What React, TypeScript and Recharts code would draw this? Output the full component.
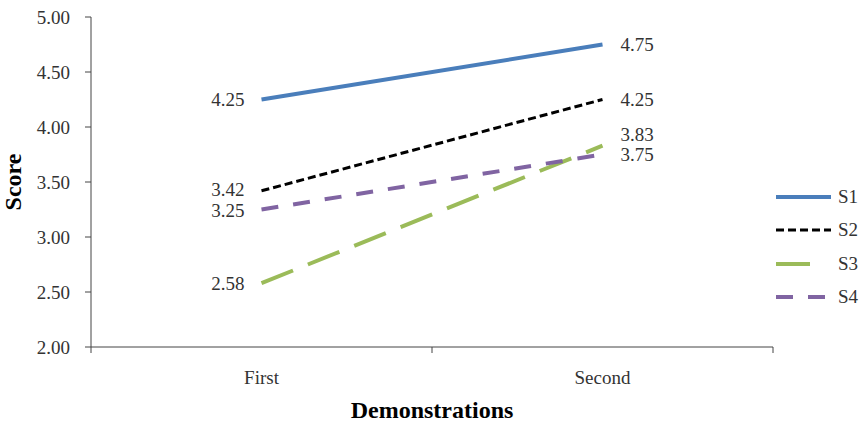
import { LineChart, Line, XAxis, YAxis, Legend, LabelList } from 'recharts'

const categories = ['First', 'Second']
const s1 = [4.25, 4.75]
const s2 = [3.42, 4.25]
const s3 = [2.58, 3.83]
const s4 = [3.25, 3.75]
const yTicks = [2, 2.5, 3, 3.5, 4, 4.5, 5]

const FONT = '"Liberation Serif", "Times New Roman", serif'
const TEXT = '#333'
const AXIS = '#444'

const series = [
  { key: 's1', name: 'S1', color: '#4a7ebb', width: 4, dash: undefined as string | undefined, legendW: 55 },
  { key: 's2', name: 'S2', color: '#000000', width: 3, dash: '8 4', legendW: 55 },
  { key: 's3', name: 'S3', color: '#9bbb59', width: 4, dash: '34 16', legendW: 37 },
  { key: 's4', name: 'S4', color: '#8064a2', width: 4, dash: '17 15', legendW: 55 },
]

// lines sit in the middle of each category slot
const data = categories.map((name, i) => ({
  name,
  pos: i + 0.5,
  s1: s1[i],
  s2: s2[i],
  s3: s3[i],
  s4: s4[i],
}))

// small vertical nudges so close labels do not overlap
const labelNudge: Record<string, number[]> = {
  s1: [0, 0],
  s2: [-1, 0],
  s3: [0, -11],
  s4: [1, 0],
}

function makeLabel(key: string) {
  return (props: any) => {
    const { x, y, value, index } = props
    const left = index === 0
    return (
      <text
        x={left ? x - 17 : x + 18}
        y={y + labelNudge[key][index]}
        textAnchor={left ? 'end' : 'start'}
        dominantBaseline="central"
        fontFamily={FONT}
        fontSize={19}
        fill={TEXT}
      >
        {Number(value).toFixed(2)}
      </text>
    )
  }
}

function LegendBox() {
  return (
    <div style={{ fontFamily: FONT, fontSize: 19, color: TEXT }}>
      {series.map((s) => (
        <div key={s.key} style={{ display: 'flex', alignItems: 'center', height: 33.5 }}>
          <svg width={64} height={10}>
            <line
              x1={2}
              x2={2 + s.legendW}
              y1={5}
              y2={5}
              stroke={s.color}
              strokeWidth={s.width}
              strokeDasharray={s.dash}
            />
          </svg>
          <span>{s.name}</span>
        </div>
      ))}
    </div>
  )
}

export default function App() {
  return (
    <div style={{ position: 'absolute', left: 0, top: 0, background: '#fff' }}>
      <LineChart width={864} height={438} data={data} margin={{ top: 17, right: 91, bottom: 8, left: 7 }}>
        <YAxis
          domain={[2, 5]}
          ticks={yTicks}
          tickFormatter={(v: number) => v.toFixed(2)}
          width={84}
          tickSize={6}
          tickMargin={15}
          tick={{ fontFamily: FONT, fontSize: 19, fill: TEXT }}
          axisLine={{ stroke: AXIS }}
          tickLine={{ stroke: AXIS }}
          label={{
            value: 'Score',
            angle: -90,
            position: 'insideLeft',
            style: { fontFamily: FONT, fontSize: 24, fontWeight: 'bold', fill: '#000', textAnchor: 'middle' },
          }}
        />
        {/* axis line with tick marks at the category boundaries */}
        <XAxis
          xAxisId="a"
          type="number"
          dataKey="pos"
          domain={[0, 2]}
          ticks={[0, 1, 2]}
          tickFormatter={() => ''}
          tickSize={6}
          height={8}
          axisLine={{ stroke: AXIS }}
          tickLine={{ stroke: AXIS }}
        />
        {/* category names centred in each slot */}
        <XAxis
          xAxisId="b"
          type="number"
          dataKey="pos"
          domain={[0, 2]}
          ticks={[0.5, 1.5]}
          tickFormatter={(v: number) => categories[Math.floor(v)]}
          axisLine={false}
          tickLine={false}
          tickMargin={10}
          height={75}
          tick={{ fontFamily: FONT, fontSize: 19, fill: TEXT }}
          label={{
            value: 'Demonstrations',
            position: 'insideBottom',
            offset: 12,
            style: { fontFamily: FONT, fontSize: 24, fontWeight: 'bold', fill: '#000' },
          }}
        />
        <Legend
          content={<LegendBox />}
          layout="horizontal"
          verticalAlign="middle"
          align="center"
          wrapperStyle={{ left: 774, top: 180, width: 90 }}
        />
        {series.map((s) => (
          <Line
            key={s.key}
            xAxisId="a"
            dataKey={s.key}
            name={s.name}
            stroke={s.color}
            strokeWidth={s.width}
            strokeDasharray={s.dash}
            dot={false}
            activeDot={false}
            isAnimationActive={false}
          >
            <LabelList dataKey={s.key} content={makeLabel(s.key)} />
          </Line>
        ))}
      </LineChart>
    </div>
  )
}
